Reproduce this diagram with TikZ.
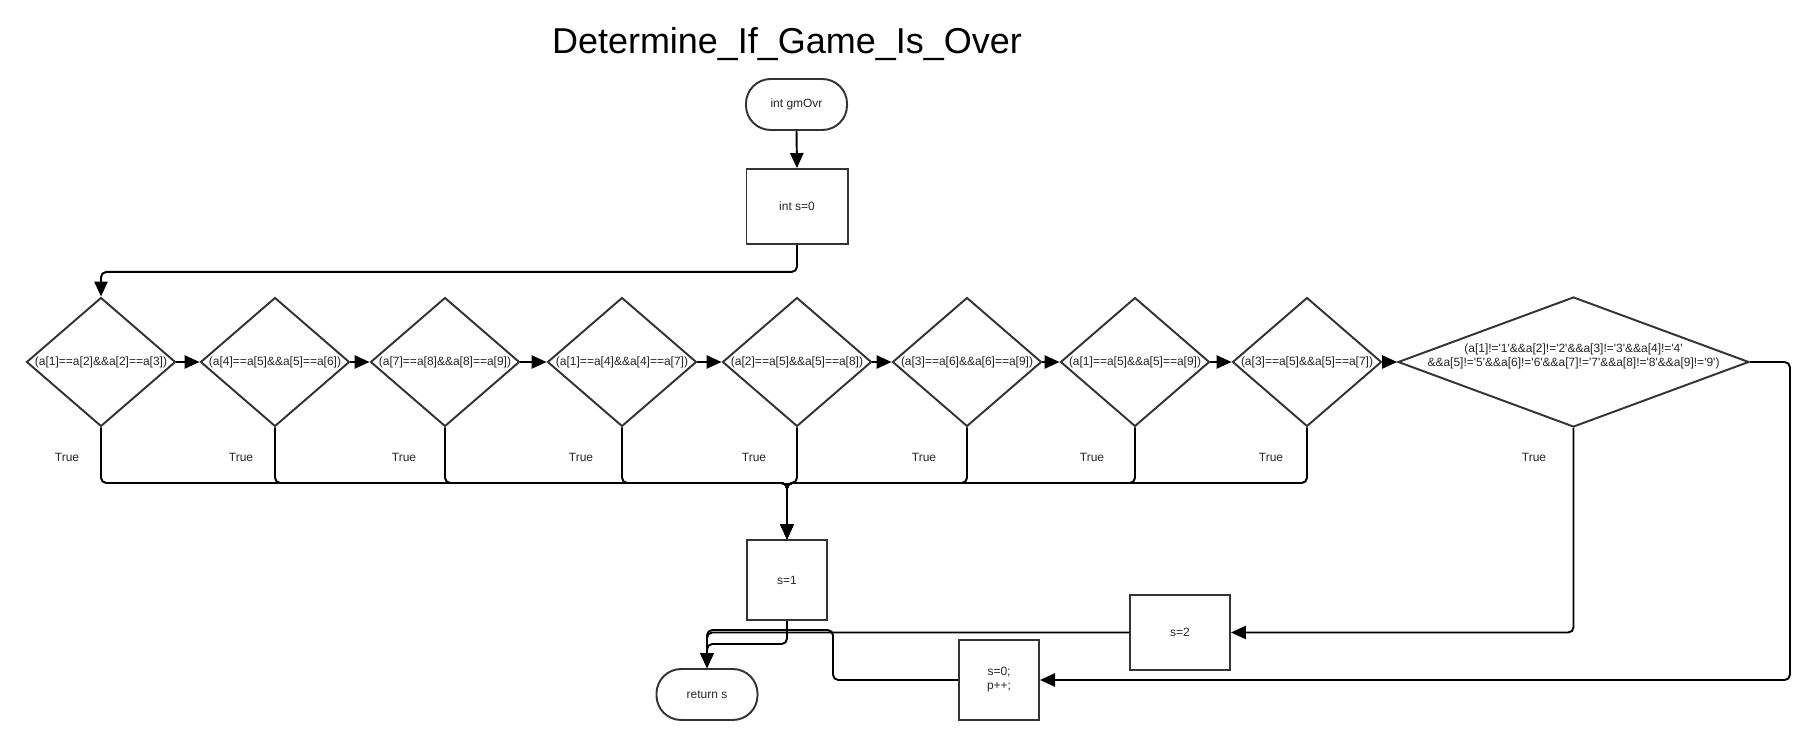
\documentclass[tikz,border=0pt]{standalone}
\usepackage{fontspec}
\setmainfont{Liberation Sans}
\usetikzlibrary{shapes.geometric,arrows.meta}
\begin{document}
\begin{tikzpicture}[x=0.567pt,y=-0.567pt,
  every node/.style={font=\fontsize{6.8pt}{7.9pt}\selectfont, text=black!85},
  shapeline/.style={draw=black!80, line width=1.1pt},
  term/.style={shapeline, rectangle, rounded corners=14pt, minimum width=57.3pt, minimum height=28.9pt, inner sep=0pt},
  proc/.style={shapeline, rectangle, inner sep=0pt, align=center},
  dia/.style={shapeline, diamond, inner sep=0pt, minimum width=84.5pt, minimum height=73.1pt},
  conn/.style={draw=black, line width=1.1pt, rounded corners=3pt, -{Triangle[length=8.5pt,width=7.5pt]}},
  truelbl/.style={}
]
\fill[white] (0,0) rectangle (1814,740);
\useasboundingbox (0,0) rectangle (1814,740);

\node[font=\fontsize{20.4pt}{24pt}\selectfont, text=black, anchor=base] (title) at (787,54) {Determine\_If\_Game\_Is\_Over};

\node[term] (start) at (796.5,104.5) {int gmOvr};
\node[proc, minimum width=57.3pt, minimum height=42.5pt] (s0) at (797,206.5) {int s=0};

\node[dia, label={center:{(a[1]==a[2]\&\&a[2]==a[3])}}] (D1) at (101,362) {};
\node[dia, label={center:{(a[4]==a[5]\&\&a[5]==a[6])}}] (D2) at (275,362) {};
\node[dia, label={center:{(a[7]==a[8]\&\&a[8]==a[9])}}] (D3) at (445,362) {};
\node[dia, label={center:{(a[1]==a[4]\&\&a[4]==a[7])}}] (D4) at (622,362) {};
\node[dia, label={center:{(a[2]==a[5]\&\&a[5]==a[8])}}] (D5) at (797,362) {};
\node[dia, label={center:{(a[3]==a[6]\&\&a[6]==a[9])}}] (D6) at (967,362) {};
\node[dia, label={center:{(a[1]==a[5]\&\&a[5]==a[9])}}] (D7) at (1135,362) {};
\node[dia, label={center:{(a[3]==a[5]\&\&a[5]==a[7])}}] (D8) at (1307,362) {};
\node[dia, minimum width=199pt, minimum height=73.7pt,
  label={[align=center, yshift=3.4pt]center:{(a[1]!=\textquotesingle1\textquotesingle\&\&a[2]!=\textquotesingle2\textquotesingle\&\&a[3]!=\textquotesingle3\textquotesingle\&\&a[4]!=\textquotesingle4\textquotesingle\\\&\&a[5]!=\textquotesingle5\textquotesingle\&\&a[6]!=\textquotesingle6\textquotesingle\&\&a[7]!=\textquotesingle7\textquotesingle\&\&a[8]!=\textquotesingle8\textquotesingle\&\&a[9]!=\textquotesingle9\textquotesingle)}}] (D9) at (1573.5,362) {};

\node[truelbl] (t1) at (67,457) {True};
\node[truelbl] (t2) at (241,457) {True};
\node[truelbl] (t3) at (404,457) {True};
\node[truelbl] (t4) at (581,457) {True};
\node[truelbl] (t5) at (754,457) {True};
\node[truelbl] (t6) at (924,457) {True};
\node[truelbl] (t7) at (1092,457) {True};
\node[truelbl] (t8) at (1271,457) {True};
\node[truelbl] (t9) at (1534,457) {True};

\node[proc, minimum width=45.4pt, minimum height=45.4pt] (s1) at (787,580) {s=1};
\node[term] (ret) at (707,694.5) {return s};
\node[proc, minimum width=56.7pt, minimum height=42.5pt] (s2) at (1180,632.5) {s=2};
\node[proc, minimum width=45.4pt, minimum height=45.4pt] (sp) at (999,680) {s=0;\\p++;};

\coordinate (m) at (787,483);

\draw[conn] (start.south) -- (s0.north);
\draw[conn] (s0.south) -- ++(0,27) -| (D1.north);
\draw[conn] (D1.east) -- (D2.west);
\draw[conn] (D2.east) -- (D3.west);
\draw[conn] (D3.east) -- (D4.west);
\draw[conn] (D4.east) -- (D5.west);
\draw[conn] (D5.east) -- (D6.west);
\draw[conn] (D6.east) -- (D7.west);
\draw[conn] (D7.east) -- (D8.west);
\draw[conn] (D8.east) -- (D9.west);
\foreach \d in {D1,D2,D3,D4,D5,D6,D7,D8}
  \draw[conn] (\d.south) |- (m) -- (s1.north);
\draw[conn, line width=1.6pt] (m) -- (s1.north);
\draw[conn] (D9.south) |- (s2.east);
\draw[conn] (D9.east) -- ++(40,0) |- (sp.east);
\draw[conn] (s1.south) -- ++(0,23) -| (ret.north);
\draw[conn] (s2.west) -| (ret.north);
\draw[conn] (sp.west) -| (833,630) -| (ret.north);
\end{tikzpicture}
\end{document}
